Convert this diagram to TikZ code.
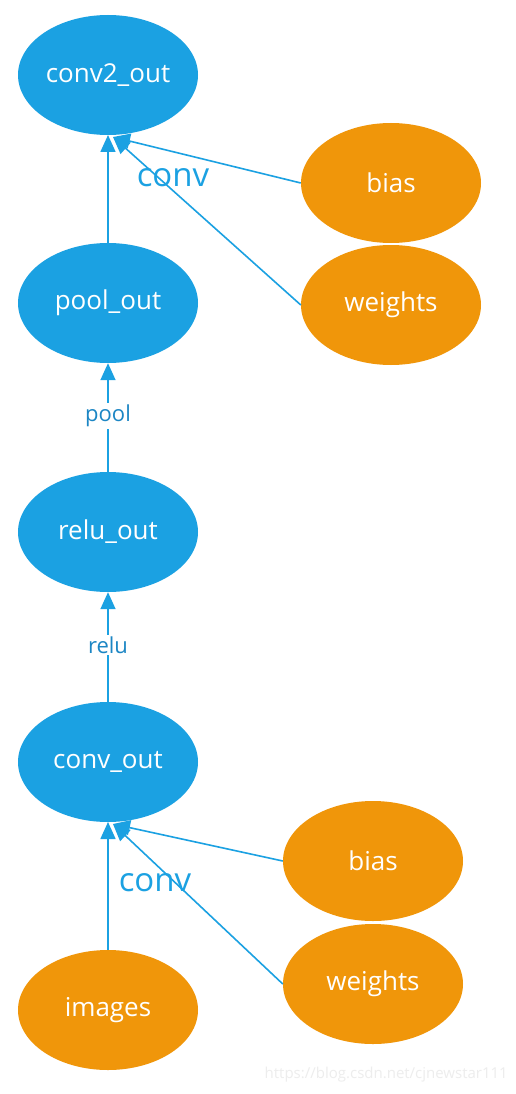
\documentclass[tikz,border=0pt]{standalone}
\usepackage{fontspec}
\setmainfont{Open Sans}
\usetikzlibrary{arrows.meta,shapes.geometric}
\definecolor{nblue}{HTML}{1BA1E2}
\definecolor{norange}{HTML}{F0960A}
\definecolor{lblue}{HTML}{1C86C4}
\begin{document}
\begin{tikzpicture}[x=1pt,y=-1pt,
  blue node/.style={ellipse,fill=nblue,text=white,minimum width=180pt,minimum height=120pt,inner sep=0pt,font=\fontsize{26}{26}\selectfont},
  orange node/.style={ellipse,fill=norange,text=white,minimum width=180pt,minimum height=120pt,inner sep=0pt,font=\fontsize{26}{26}\selectfont},
  edge/.style={draw=nblue,line width=1.6pt,-{Triangle[length=17pt,width=15pt,fill=nblue]}},
  big label/.style={text=nblue,font=\fontsize{33}{33}\selectfont,inner sep=0pt},
  small label/.style={text=lblue,fill=white,font=\fontsize{22}{22}\selectfont,inner sep=2pt},
  ]
\useasboundingbox (0,0) rectangle (515,1094);
\fill[white] (0,0) rectangle (515,1094);
\node[blue node] (conv2) at (108,75) {conv2\_out};
\node[blue node] (pool) at (108,303) {pool\_out};
\node[blue node] (relu) at (108,532) {relu\_out};
\node[blue node] (conv) at (108,762) {conv\_out};
\node[orange node] (images) at (108,1010) {images};
\node[orange node] (bias1) at (391,183) {bias};
\node[orange node] (w1) at (391,305) {weights};
\node[orange node] (bias2) at (373,861) {bias};
\node[orange node] (w2) at (373,984) {weights};
\coordinate (t1) at (108,135);
\coordinate (t1b) at (113,137);
\coordinate (t2) at (108,822);
\coordinate (t2b) at (113,824);
% top conv
\draw[edge] (pool.north) -- (t1);
\draw[edge] (bias1.west) -- (t1b);
\draw[edge] (w1.west) -- (t1b);
\node[big label] (lconv1) at (173,178) {conv};
% pool
\draw[edge] (relu.north) -- (pool.south);
\node[small label] (lpool) at (108,416) {pool};
% relu
\draw[edge] (conv.north) -- (relu.south);
\node[small label] (lrelu) at (108,645) {relu};
% bottom conv
\draw[edge] (images.north) -- (t2);
\draw[edge] (bias2.west) -- (t2b);
\draw[edge] (w2.west) -- (t2b);
\node[big label] (lconv2) at (155,883) {conv};
\node[text=black!7,font=\fontsize{15}{15}\selectfont,inner sep=0pt,anchor=east] (wm) at (508,1075) {https://blog.csdn.net/cjnewstar111};
\end{tikzpicture}
\end{document}
